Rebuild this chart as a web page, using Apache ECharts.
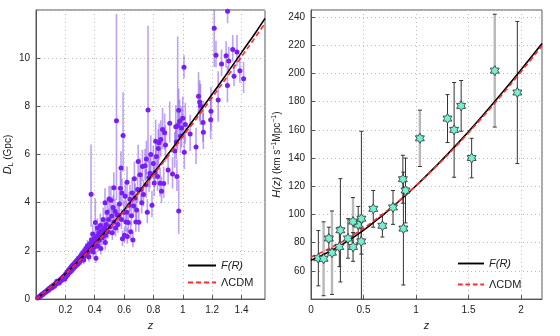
<!DOCTYPE html>
<html>
<head>
<meta charset="utf-8">
<script src="https://cdn.jsdelivr.net/npm/echarts@6/dist/echarts.min.js"></script>
<style>
html, body { margin: 0; padding: 0; background: #fff; }
#chart { width: 560px; height: 336px; }
</style>
</head>
<body>
<div id="chart"></div>
<script>
// model curves, left panel (z, D_L in Gpc)
var dlCurveZ = [0, 0.1, 0.2, 0.3, 0.4, 0.5, 0.6, 0.7, 0.8, 0.9, 1.0, 1.1, 1.2, 1.3, 1.4, 1.5, 1.56];
var dlFR     = [0, 0.50, 1.05, 1.65, 2.30, 2.98, 3.70, 4.45, 5.22, 6.02, 6.84, 7.66, 8.50, 9.36, 10.23, 11.10, 11.65];
var dlLCDM   = [0, 0.50, 1.04, 1.63, 2.27, 2.94, 3.66, 4.40, 5.16, 5.94, 6.74, 7.55, 8.37, 9.21, 10.06, 10.92, 11.45];

// model curves, right panel (z, H in km/s/Mpc)
var hCurveZ = [0, 0.2, 0.4, 0.6, 0.8, 1.0, 1.2, 1.4, 1.6, 1.8, 2.0, 2.2];
var hFR     = [67.5, 74.6, 83.6, 94.5, 106.9, 120.4, 135.0, 150.6, 167.2, 184.6, 202.6, 221.2];
var hLCDM   = [69.8, 76.8, 85.4, 95.6, 107.3, 120.4, 134.6, 149.9, 166.2, 183.3, 201.2, 219.6];

// supernovae: [z, D_L, err down, err up]
var snData = [
  [0.012,0.05,0.01,0.01],[0.015,0.07,0.01,0.01],[0.018,0.08,0.01,0.01],[0.022,0.10,0.01,0.01],
  [0.025,0.12,0.01,0.01],[0.028,0.12,0.01,0.01],[0.031,0.14,0.01,0.01],[0.035,0.16,0.01,0.01],
  [0.038,0.17,0.01,0.02],[0.042,0.19,0.02,0.02],[0.046,0.21,0.02,0.02],[0.05,0.23,0.02,0.02],
  [0.053,0.24,0.02,0.02],[0.057,0.27,0.02,0.02],[0.062,0.28,0.02,0.02],[0.066,0.31,0.02,0.03],
  [0.07,0.33,0.03,0.03],[0.074,0.34,0.03,0.03],[0.078,0.38,0.03,0.03],[0.083,0.39,0.03,0.03],
  [0.088,0.43,0.03,0.04],[0.092,0.44,0.04,0.04],[0.097,0.47,0.04,0.04],[0.1,0.45,0.04,0.04],
  [0.104,0.51,0.04,0.04],[0.108,0.49,0.04,0.05],[0.113,0.55,0.05,0.05],[0.118,0.53,0.05,0.05],
  [0.122,0.6,0.05,0.05],[0.127,0.57,0.05,0.06],[0.131,0.64,0.05,0.06],[0.136,0.62,0.06,0.06],
  [0.14,0.69,0.06,0.06],[0.145,0.66,0.06,0.07],[0.15,0.73,0.06,0.07],[0.155,0.7,0.07,0.07],
  [0.16,0.78,0.07,0.08],[0.165,0.74,0.07,0.08],[0.17,0.84,0.07,0.08],[0.175,0.8,0.08,0.09],
  [0.18,0.9,0.08,0.09],[0.185,0.86,0.08,0.09],[0.19,0.96,0.08,0.1],[0.195,0.82,0.09,0.1],
  [0.2,1.03,0.09,0.1],[0.205,0.93,0.09,0.1],[0.21,1.12,0.1,0.11],[0.215,1.0,0.1,0.11],
  [0.22,1.2,0.1,0.12],[0.225,1.08,0.1,0.12],[0.23,1.27,0.11,0.12],[0.235,1.14,0.11,0.12],
  [0.24,1.35,0.12,0.13],[0.245,1.2,0.12,0.13],[0.25,1.42,0.12,0.14],[0.255,1.28,0.12,0.14],
  [0.26,1.48,0.13,0.14],[0.265,1.34,0.13,0.15],[0.27,1.55,0.13,0.15],[0.275,1.4,0.14,0.15],
  [0.28,1.62,0.14,0.16],[0.285,1.46,0.14,0.16],[0.29,1.7,0.15,0.17],[0.295,1.52,0.15,0.17],
  [0.3,1.75,0.15,0.18],[0.305,1.6,0.16,0.18],[0.31,1.84,0.16,0.19],[0.315,1.68,0.16,0.19],
  [0.32,1.92,0.17,0.2],[0.325,1.62,0.17,0.2],[0.33,2.0,0.17,0.2],[0.335,1.8,0.18,0.21],
  [0.34,2.1,0.18,0.22],[0.345,1.88,0.18,0.22],[0.35,2.2,0.2,0.25],[0.355,1.96,0.2,0.24],
  [0.36,1.75,0.2,0.24],[0.365,2.3,0.22,0.26],[0.37,2.05,0.22,0.25],[0.375,4.35,1.35,2.07],
  [0.378,2.45,0.24,0.28],[0.382,2.15,0.22,0.26],[0.386,2.7,0.3,0.4],[0.39,1.95,0.2,0.24],
  [0.395,2.5,0.25,0.3],[0.4,2.3,0.25,0.3],[0.404,3.18,0.6,1.0],[0.408,1.7,0.2,0.25],
  [0.412,2.6,0.3,0.35],[0.418,2.95,0.35,0.4],[0.422,2.2,0.25,0.3],[0.428,2.75,0.3,0.35],
  [0.432,2.45,0.3,0.35],[0.438,3.05,0.4,0.5],[0.442,2.1,0.25,0.3],[0.448,2.85,0.35,0.4],
  [0.452,2.55,0.3,0.35],[0.458,3.3,0.4,0.5],[0.462,2.7,0.3,0.35],[0.468,2.95,0.35,0.4],
  [0.47,4.0,0.5,0.6],[0.472,2.35,0.3,0.35],[0.478,3.1,0.35,0.45],[0.485,3.6,0.45,0.55],
  [0.49,2.8,0.3,0.35],[0.495,3.3,0.4,0.45],[0.498,4.15,0.5,0.55],[0.505,3.0,0.35,0.4],
  [0.51,4.1,0.5,0.6],[0.515,3.45,0.4,0.45],[0.52,2.75,0.3,0.35],[0.525,3.8,0.45,0.5],
  [0.53,3.2,0.35,0.4],[0.53,4.62,0.55,0.65],[0.538,3.65,0.45,0.5],[0.542,2.95,0.35,0.4],
  [0.548,7.4,3.3,4.44],[0.552,3.5,0.4,0.45],[0.558,3.1,0.35,0.4],[0.563,3.45,0.4,0.5],
  [0.568,3.95,0.5,0.55],[0.575,4.6,0.6,0.7],[0.579,5.44,0.7,0.7],[0.582,3.3,0.4,0.45],
  [0.586,4.4,0.5,0.6],[0.589,2.5,0.3,0.35],[0.593,6.79,1.5,1.8],[0.598,3.6,0.4,0.5],
  [0.603,2.65,0.3,0.35],[0.608,4.27,0.5,0.6],[0.612,3.2,0.4,0.45],[0.618,3.6,0.4,0.5],
  [0.62,4.85,0.55,0.65],[0.622,2.6,0.3,0.35],[0.628,3.18,0.4,0.45],[0.635,3.9,0.45,0.55],
  [0.64,4.14,0.5,0.6],[0.645,2.8,0.35,0.4],[0.65,3.46,0.4,0.5],[0.655,4.4,0.55,0.65],
  [0.66,2.45,0.3,0.35],[0.665,3.86,0.45,0.55],[0.67,5.0,0.6,0.7],[0.675,4.2,0.5,0.6],
  [0.68,3.2,0.4,0.45],[0.685,3.7,0.45,0.5],[0.692,4.55,0.55,0.65],[0.696,5.71,0.6,0.7],
  [0.7,3.19,0.4,0.5],[0.709,5.16,0.6,0.7],[0.715,4.55,0.5,0.6],[0.72,4.0,0.45,0.55],
  [0.725,5.5,0.6,0.7],[0.732,4.34,0.5,0.6],[0.743,5.53,0.6,0.7],[0.75,4.75,0.55,0.65],
  [0.752,5.82,0.65,0.75],[0.758,3.6,0.45,0.55],[0.763,7.85,2.2,3.5],[0.77,5.05,0.6,0.7],
  [0.776,5.22,0.6,0.7],[0.782,6.0,0.7,0.8],[0.79,3.9,0.5,0.6],[0.799,5.63,0.65,0.75],
  [0.805,4.82,0.55,0.65],[0.81,5.25,0.6,0.7],[0.815,6.55,0.7,0.9],[0.82,5.92,0.6,0.7],
  [0.828,5.09,0.6,0.7],[0.833,6.25,0.7,0.8],[0.838,6.49,0.7,0.8],[0.845,4.81,0.55,0.65],
  [0.85,6.62,0.7,0.8],[0.855,4.48,0.5,0.6],[0.862,7.04,0.8,0.9],[0.87,4.8,0.6,0.7],
  [0.876,6.9,0.7,0.8],[0.882,6.4,0.7,0.8],[0.9,5.36,0.6,0.7],[0.911,7.3,0.8,0.9],
  [0.93,5.19,0.6,0.7],[0.945,6.15,0.7,0.8],[0.952,7.15,0.8,0.9],[0.956,6.52,0.7,0.8],
  [0.96,5.09,0.6,0.7],[0.965,7.2,1.0,3.7],[0.972,7.84,0.8,0.9],[0.972,3.66,0.95,1.3],
  [0.978,7.38,0.8,0.9],[0.984,6.77,0.7,0.8],[0.992,7.1,0.8,0.9],[1.0,7.51,0.8,0.9],
  [1.008,9.62,0.45,0.5],[1.01,6.1,0.7,0.8],[1.017,7.25,0.8,0.9],[1.05,6.85,0.7,0.8],
  [1.09,6.31,0.7,0.8],[1.107,8.42,0.7,1.0],[1.115,8.18,0.8,0.9],[1.12,8.03,0.8,0.9],
  [1.138,7.33,0.8,0.9],[1.14,6.93,0.7,0.8],[1.19,7.44,0.8,0.9],[1.192,7.8,0.8,1.0],
  [1.214,11.24,1.6,1.2],[1.226,10.12,0.5,0.6],[1.241,8.26,0.9,1.2],[1.264,9.76,0.5,0.6],
  [1.295,10.1,0.5,0.6],[1.304,8.87,0.7,0.8],[1.305,11.95,0.5,0.6],[1.313,9.88,0.5,0.6],
  [1.34,10.36,0.5,0.6],[1.349,9.25,0.4,0.5],[1.369,10.26,0.6,0.7],[1.389,9.48,0.5,0.6],
  [1.414,9.15,0.6,0.7],
  // extra low/mid-z band
  [0.032,0.16,0.01,0.01],[0.048,0.2,0.02,0.02],[0.068,0.29,0.02,0.03],[0.086,0.37,0.03,0.03],
  [0.11,0.47,0.04,0.05],[0.125,0.53,0.05,0.05],[0.142,0.74,0.06,0.07],[0.158,0.67,0.07,0.07],
  [0.172,0.77,0.07,0.08],[0.188,0.93,0.08,0.09],[0.198,0.89,0.09,0.1],[0.212,1.06,0.1,0.11],
  [0.228,1.16,0.1,0.12],[0.238,1.28,0.11,0.12],[0.252,1.33,0.12,0.14],[0.262,1.4,0.13,0.14],
  [0.272,1.47,0.13,0.15],[0.288,1.6,0.14,0.16],[0.298,1.66,0.15,0.17],[0.308,1.72,0.16,0.18],
  [0.318,1.78,0.16,0.19],[0.328,1.9,0.17,0.2],[0.338,1.98,0.18,0.21],[0.348,2.05,0.18,0.22],
  [0.358,2.12,0.2,0.24],[0.368,2.2,0.22,0.26],[0.388,2.35,0.23,0.27],[0.398,2.15,0.23,0.27],
  [0.415,2.4,0.28,0.32],[0.435,2.6,0.3,0.35],[0.455,2.8,0.32,0.36],[0.475,2.65,0.3,0.35]
];

// H(z) measurements: [z, H, sigma]
var hzSetA = [
  [0.07,69,19.6],[0.17,83,8],[0.27,77,14],[0.28,88.8,36.6],[0.352,83,14],
  [0.4004,77,10.2],[0.4497,92.8,12.9],[0.48,97,62],[0.4783,80.9,9],[0.593,104,13],
  [0.68,92,8],[0.781,105,12],[0.875,125,17],[0.88,90,40],[0.9,117,23],
  [1.3,168,17],[1.363,160,33.6],[1.43,177,18],[1.53,140,14],[1.965,186.5,50.4]
];
var hzSetB = [
  [0.12,68.6,26.2],[0.2,72.9,29.6],[0.4,95,17],[1.037,154,20],[1.75,202,40]
];

var font = 'Liberation Sans, Arial, sans-serif';
var star = 'path://M0,-10 L2.887,-5 L8.66,-5 L5.774,0 L8.66,5 L2.887,5 L0,10 L-2.887,5 L-8.66,5 L-5.774,0 L-8.66,-5 L-2.887,-5 Z';
var solidIcon = 'path://M0,0 L28,0 L28,2 L0,2 Z';
var dashIcon = 'path://M0,0 L5,0 L5,2 L0,2 Z M8,0 L13,0 L13,2 L8,2 Z M16,0 L21,0 L21,2 L16,2 Z M24,0 L28,0 L28,2 L24,2 Z';

function pairs(xs, ys) {
  return xs.map(function (x, i) { return [x, ys[i]]; });
}

function errorSeries(data, idx, color, width, capColor, symmetric) {
  return {
    type: 'custom',
    xAxisIndex: idx, yAxisIndex: idx,
    data: data,
    clip: true,
    silent: true,
    z: 1,
    renderItem: function (params, api) {
      var x = api.value(0), y = api.value(1);
      var dn = api.value(2), up = symmetric ? dn : api.value(3);
      var lo = api.coord([x, y - dn]);
      var hi = api.coord([x, y + up]);
      var kids = [{
        type: 'line',
        shape: { x1: lo[0], y1: lo[1], x2: hi[0], y2: hi[1] },
        style: { stroke: color, lineWidth: width }
      }];
      if (capColor) {
        kids.push({ type: 'line', shape: { x1: lo[0] - 2, y1: lo[1], x2: lo[0] + 2, y2: lo[1] },
          style: { stroke: capColor, lineWidth: 1 } });
        kids.push({ type: 'line', shape: { x1: hi[0] - 2, y1: hi[1], x2: hi[0] + 2, y2: hi[1] },
          style: { stroke: capColor, lineWidth: 1 } });
      }
      return { type: 'group', children: kids };
    }
  };
}

function xAx(idx, max, interval) {
  return {
    gridIndex: idx, type: 'value', min: 0, max: max, interval: interval,
    name: 'z', nameLocation: 'middle', nameGap: 17,
    nameTextStyle: { fontFamily: font, fontStyle: 'italic', fontSize: 11, color: '#222' },
    axisLine: { onZero: false, lineStyle: { color: '#555' } },
    axisTick: { inside: true, length: 4, lineStyle: { color: '#555' } },
    axisLabel: { showMinLabel: idx === 1, showMaxLabel: false, fontFamily: font, fontSize: 10, color: '#222', margin: 6 },
    splitLine: { lineStyle: { color: '#bbb', type: [1, 3] } }
  };
}

function yAx(idx, min, max, interval, name, gap) {
  return {
    gridIndex: idx, type: 'value', min: min, max: max, interval: interval,
    name: name, nameLocation: 'middle', nameGap: gap, nameRotate: 90,
    nameTextStyle: {
      fontFamily: font, fontSize: 10, color: '#222', lineHeight: 14,
      rich: {
        i: { fontFamily: font, fontStyle: 'italic', fontSize: 11, color: '#222', lineHeight: 14 },
        sub: { fontFamily: font, fontSize: 7, color: '#222', verticalAlign: 'bottom', lineHeight: 7 },
        sup: { fontFamily: font, fontSize: 7, color: '#222', verticalAlign: 'top', lineHeight: 7 },
        t: { fontFamily: font, fontSize: 10, color: '#222', lineHeight: 14 }
      }
    },
    axisLine: { onZero: false, lineStyle: { color: '#555' } },
    axisTick: { inside: true, length: 4, lineStyle: { color: '#555' } },
    axisLabel: { showMinLabel: idx === 0, showMaxLabel: false, fontFamily: font, fontSize: 10, color: '#222', margin: 6 },
    splitLine: { lineStyle: { color: '#bbb', type: [1, 3] } }
  };
}

function legendAt(left, top, gap, w) {
  return {
    data: [{ name: 'F(R)', icon: solidIcon }, { name: 'ΛCDM', icon: dashIcon }],
    orient: 'vertical', left: left, top: top,
    itemWidth: w, itemHeight: 2, itemGap: gap,
    selectedMode: false,
    formatter: function (n) { return n === 'F(R)' ? '{i|F(R)}' : '{t|' + n + '}'; },
    textStyle: {
      fontFamily: font, fontSize: 11, color: '#222',
      rich: {
        i: { fontFamily: font, fontStyle: 'italic', fontSize: 11, color: '#222' },
        t: { fontFamily: font, fontSize: 11, color: '#222' }
      }
    }
  };
}

function curve(name, idx, data, color, dashed) {
  return {
    type: 'line', name: name, xAxisIndex: idx, yAxisIndex: idx,
    data: data, smooth: true, symbol: 'none', z: dashed ? 6 : 5,
    itemStyle: { color: color },
    lineStyle: { color: color, width: 1.6, type: dashed ? [5, 3] : 'solid' }
  };
}

var chart = echarts.init(document.getElementById('chart'), null, { renderer: 'canvas' });
chart.setOption({
  animation: false,
  backgroundColor: '#fff',
  grid: [
    { left: 33, right: 295, top: 10, bottom: 31, show: true, borderColor: '#555', borderWidth: 1 },
    { left: 311, right: 18, top: 10, bottom: 31, show: true, borderColor: '#555', borderWidth: 1 }
  ],
  xAxis: [xAx(0, 1.56, 0.2), xAx(1, 2.2, 0.5)],
  yAxis: [
    yAx(0, 0, 12, 2, '{i|D}{sub|L} {t|(Gpc)}', 18),
    yAx(1, 40, 245, 20, '{i|H(z)} {t|(km s}{sup|−1}{t|Mpc}{sup|−1}{t|)}', 22)
  ],
  legend: [legendAt(183, 255, 6, 28), legendAt(453, 253, 10, 26)],
  series: [
    errorSeries(snData, 0, 'rgba(125,70,235,0.5)', 1.6, null, false),
    {
      type: 'scatter', xAxisIndex: 0, yAxisIndex: 0, data: snData.map(function (d) { return [d[0], d[1]]; }),
      symbol: 'circle', symbolSize: 5, z: 3,
      itemStyle: { color: '#7a1cf5', opacity: 1 }
    },
    curve('F(R)', 0, pairs(dlCurveZ, dlFR), '#000', false),
    curve('ΛCDM', 0, pairs(dlCurveZ, dlLCDM), '#ff2a2a', true),

    errorSeries(hzSetB, 1, '#b8b8b8', 2.4, '#333', true),
    errorSeries(hzSetA, 1, '#333', 1, '#333', true),
    curve('F(R)', 1, pairs(hCurveZ, hFR), '#000', false),
    curve('ΛCDM', 1, pairs(hCurveZ, hLCDM), '#ff2a2a', true),
    {
      type: 'scatter', xAxisIndex: 1, yAxisIndex: 1,
      data: hzSetA.concat(hzSetB).map(function (d) { return [d[0], d[1]]; }),
      symbol: star, symbolSize: [9, 10], z: 8,
      itemStyle: { color: '#74f0d2', borderColor: '#2a2a2a', borderWidth: 0.8, opacity: 1 }
    }
  ]
});
</script>
</body>
</html>
